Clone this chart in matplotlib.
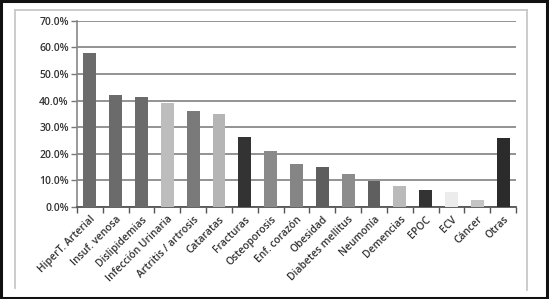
import matplotlib
matplotlib.use("Agg")
import matplotlib.pyplot as plt
from matplotlib.patches import Rectangle
from matplotlib.lines import Line2D
import numpy as np

categories = ["HiperT. Arterial", "Insuf. venosa", "Dislipidemias", "Infección Urinaria",
              "Artritis / artrosis", "Cataratas", "Fracturas", "Osteoporosis", "Enf. corazón",
              "Obesidad", "Diabetes mellitus", "Neumonía", "Demencias", "EPOC", "ECV",
              "Cáncer", "Otras"]
values = [57.9, 42.0, 41.4, 39.2, 36.1, 35.0, 26.3, 21.0, 16.2, 15.0, 12.4, 9.6, 7.9, 6.4, 5.5, 2.7, 26.0]
bar_colors = ["#6b6b6b", "#6b6b6b", "#6b6b6b", "#bdbdbd", "#7a7a7a", "#b5b5b5", "#333333",
              "#8a8a8a", "#858585", "#5e5e5e", "#8c8c8c", "#5f5f5f", "#bababa", "#333333",
              "#ececec", "#c4c4c4", "#2b2b2b"]
yticks = [0, 10, 20, 30, 40, 50, 60, 70]
ytick_labels = ["0.0%", "10.0%", "20.0%", "30.0%", "40.0%", "50.0%", "60.0%", "70.0%"]

plt.rcParams['font.family'] = ['Open Sans', 'DejaVu Sans']

fig = plt.figure(figsize=(5.49, 2.99), dpi=100)
fig.patch.set_facecolor("white")

# outer black border
fig.add_artist(Rectangle((0.002, 0.004), 0.994, 0.992, transform=fig.transFigure,
                         fill=False, edgecolor="#111111", linewidth=2.2))
# inner light frame (top, left, right)
W, H = 549, 299
def fx(px): return px / W
def fy(py): return 1 - py / H
for (x0, y0, x1, y1) in [(15, 10, 527, 10), (15, 10, 15, 288), (527, 10, 527, 290)]:
    fig.add_artist(Line2D([fx(x0), fx(x1)], [fy(y0), fy(y1)], transform=fig.transFigure,
                          color="#c8c8c8", linewidth=1.3))

ax = fig.add_axes([77 / W, 1 - 207 / H, (516 - 77) / W, (207 - 20.7) / H])
x = np.arange(len(categories))
ax.bar(x, values, width=0.5, color=bar_colors, zorder=3)
ax.set_xlim(-0.5, len(categories) - 0.5)
ax.set_ylim(0, 70)
ax.set_yticks(yticks)
ax.set_yticklabels(ytick_labels, fontweight="semibold")
ax.yaxis.grid(True, color="#8a8a8a", linewidth=1.3, zorder=0)
ax.set_axisbelow(True)

ax.set_xticks(x)
ax.set_xticklabels(categories, rotation=45, ha="right", rotation_mode="anchor",
                   fontweight="semibold")
ax.tick_params(axis="x", length=0, pad=5, labelsize=7.4, colors="#333333")
ax.set_xticks(np.arange(len(categories) + 1) - 0.5, minor=True)
ax.tick_params(axis="x", which="minor", length=4, width=1, color="#555555", direction="out")
ax.tick_params(axis="y", length=4, width=1, color="#777777", labelsize=7.5, labelcolor="#333333", pad=2)

for s in ["top", "right"]:
    ax.spines[s].set_visible(False)
ax.spines["left"].set_color("#888888")
ax.spines["left"].set_linewidth(1.2)
ax.spines["bottom"].set_color("#555555")
ax.spines["bottom"].set_linewidth(1.3)

fig.savefig("out.png", dpi=100)
